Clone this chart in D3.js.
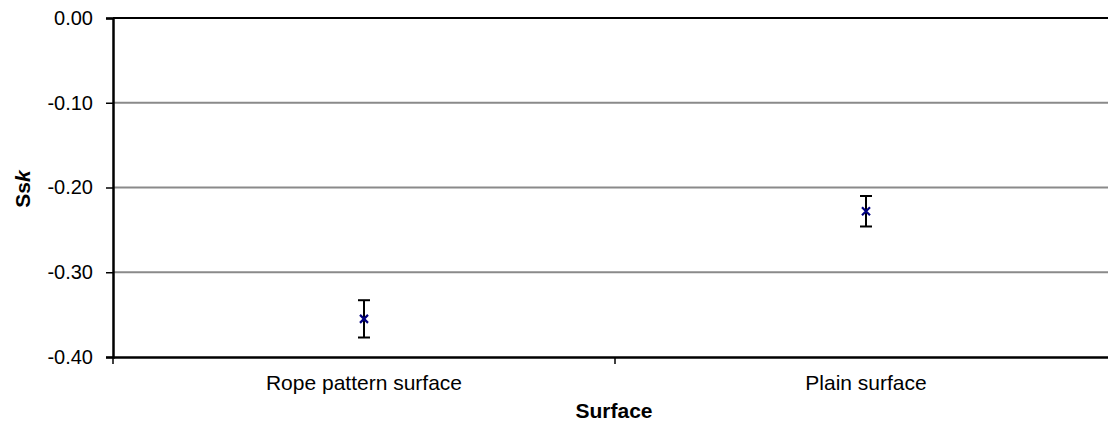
<!DOCTYPE html>
<html><head><meta charset="utf-8">
<script src="https://cdn.jsdelivr.net/npm/d3@7"></script>
<style>body{margin:0;background:#fff}svg{display:block}text{font-family:"Liberation Sans",Arial,sans-serif}</style>
</head><body>
<script>
const categories = ["Rope pattern surface", "Plain surface"];
const means = [-0.355, -0.228];
const errors = [0.022, 0.018];
const yTicks = [0, -0.1, -0.2, -0.3, -0.4];

const W = 1108, H = 423;
const svg = d3.select("body").append("svg").attr("width", W).attr("height", H);
const x0 = 113, x1 = 1117, yTop = 18, yBot = 357;
const x = d3.scaleBand().domain(categories).range([x0, x1]);
const y = d3.scaleLinear().domain([-0.4, 0]).range([yBot, yTop]);
const fmt = d => d3.format(".2f")(d).replace("\u2212", "-");

// gridlines
svg.append("g").selectAll("line").data(yTicks.filter(v => v !== -0.4 && v !== 0)).join("line")
  .attr("x1", x0).attr("x2", x1).attr("y1", d => y(d)).attr("y2", d => y(d))
  .attr("stroke", "#8a8a8a").attr("stroke-width", 2);
// top border
svg.append("line").attr("x1", x0).attr("x2", x1).attr("y1", y(0)).attr("y2", y(0))
  .attr("stroke", "#000").attr("stroke-width", 2);

// y axis
const ya = svg.append("g").attr("transform", `translate(${x0},0)`)
  .call(d3.axisLeft(y).tickValues(yTicks).tickFormat(fmt).tickSize(7).tickPadding(13));
ya.select(".domain").attr("stroke", "#000").attr("stroke-width", 2.5);
ya.selectAll(".tick line").attr("stroke", "#000").attr("stroke-width", 1.5);
ya.selectAll("text").attr("font-size", 20).attr("fill", "#000")
  .attr("font-family", "Liberation Sans, Arial, sans-serif");

// x axis
const xa = svg.append("g").attr("transform", `translate(0,${yBot})`)
  .call(d3.axisBottom(x).tickSize(0).tickPadding(18));
xa.select(".domain").attr("stroke", "#000").attr("stroke-width", 2.5);
xa.selectAll("text").attr("font-size", 21).attr("fill", "#000")
  .attr("font-family", "Liberation Sans, Arial, sans-serif");
// category boundary ticks
svg.append("g").selectAll("line").data(categories).join("line")
  .attr("x1", d => x(d)).attr("x2", d => x(d)).attr("y1", yBot).attr("y2", yBot + 7)
  .attr("stroke", "#000").attr("stroke-width", 1.5);

// error bars
const cx = d => x(d) + x.bandwidth() / 2;
const g = svg.append("g");
categories.forEach((c, i) => {
  const xc = cx(c);
  const hi = y(means[i] + errors[i]), lo = y(means[i] - errors[i]);
  g.append("line").attr("x1", xc).attr("x2", xc).attr("y1", hi).attr("y2", lo).attr("stroke", "#000").attr("stroke-width", 2);
  g.append("line").attr("x1", xc - 6).attr("x2", xc + 6).attr("y1", hi).attr("y2", hi).attr("stroke", "#000").attr("stroke-width", 2);
  g.append("line").attr("x1", xc - 6).attr("x2", xc + 6).attr("y1", lo).attr("y2", lo).attr("stroke", "#000").attr("stroke-width", 2);
  const ym = y(means[i]), s = 4;
  g.append("path").attr("d", `M${xc - s},${ym - s}L${xc + s},${ym + s}M${xc - s},${ym + s}L${xc + s},${ym - s}`)
    .attr("stroke", "#000080").attr("stroke-width", 2.2);
});

// axis titles
svg.append("text").attr("x", 614).attr("y", 418).attr("text-anchor", "middle")
  .attr("font-size", 21).attr("font-weight", "bold").text("Surface");
const yt = svg.append("text").attr("transform", `translate(30,189) rotate(-90)`)
  .attr("text-anchor", "middle").attr("font-size", 21).attr("font-weight", "bold");
yt.append("tspan").text("Ss");
yt.append("tspan").attr("font-style", "italic").text("k");
</script>
</body></html>
